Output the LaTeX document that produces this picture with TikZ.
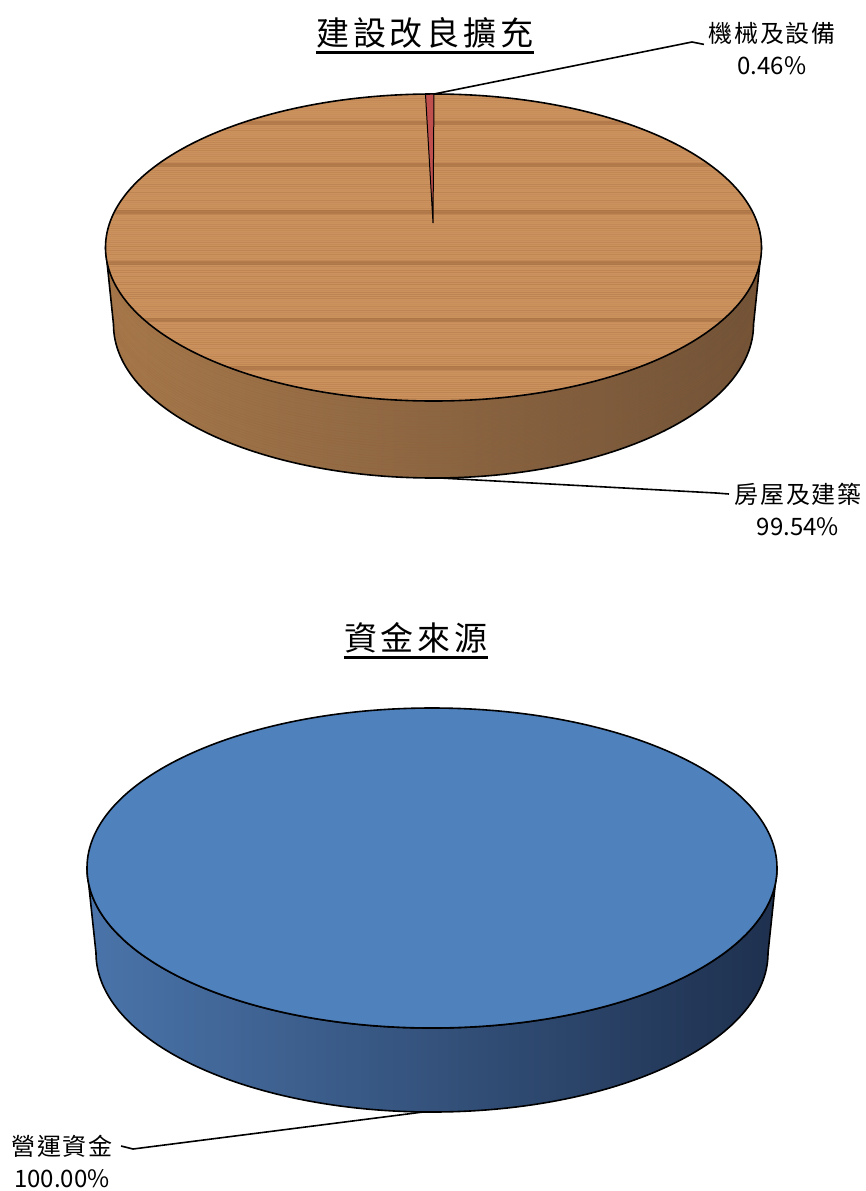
\documentclass[tikz,border=0pt]{standalone}
\usepackage{fontspec}
\newfontfamily\cjk{Noto Sans CJK TC}
\newcommand{\lsp}{\addfontfeature{LetterSpace=8}}
\newcommand{\tsp}{\addfontfeature{LetterSpace=12}}
\usetikzlibrary{positioning}
\definecolor{woodtop}{RGB}{204,146,94}
\definecolor{wooddark}{RGB}{145,92,50}
\definecolor{woodsideL}{RGB}{168,122,76}
\definecolor{woodsideM}{RGB}{122,90,61}
\definecolor{woodsideR}{RGB}{112,82,56}
\definecolor{slicered}{RGB}{192,80,77}
\definecolor{bluetop}{RGB}{79,129,189}
\definecolor{bluesideL}{RGB}{74,116,170}
\definecolor{bluesideM}{RGB}{46,72,108}
\definecolor{bluesideR}{RGB}{30,48,78}
\begin{document}
\begin{tikzpicture}[x=1pt,y=-1pt,
  ttl/.style={font=\cjk\fontsize{33}{40}\selectfont, inner sep=0pt},
  lbl/.style={font=\cjk\fontsize{24}{30}\selectfont, inner sep=0pt},
  rim/.style={draw=black, line width=1.6pt},
  lead/.style={draw=black, line width=1.6pt}]
  \useasboundingbox (0,0) rectangle (866,1191);
  \pgfmathsetseed{11}

  % ---- first chart: construction ----
  % titles
  \node[ttl] (ttlA) at (425,33) {\tsp 建設改良擴充};
  \draw[line width=2.2pt] ([yshift=-4pt]ttlA.south west) -- ([yshift=-4pt]ttlA.south east);

  % side of the wooden pie
  \path[left color=woodsideL, middle color=woodsideM, right color=woodsideR]
    (105.5,247.5) arc[start angle=180, end angle=360, x radius=328pt, y radius=153.5pt]
    -- (753.5,324.5) arc[start angle=0, end angle=-180, x radius=320pt, y radius=153.5pt]
    -- cycle;
  \begin{scope}
    \clip (105.5,247.5) arc[start angle=180, end angle=360, x radius=328pt, y radius=153.5pt]
      -- (753.5,324.5) arc[start angle=0, end angle=-180, x radius=320pt, y radius=153.5pt]
      -- cycle;
    \foreach \k in {1,...,30} {
      \pgfmathsetmacro\oo{0.05+0.2*rnd}
      \draw[wooddark, opacity=\oo, line width=1pt]
        (105.5,247.5+2.6*\k) arc[start angle=180, end angle=360, x radius=326pt, y radius=153.5pt];
    }
  \end{scope}
  \draw[rim] (105.5,247.5) -- (113.5,324.5)
    arc[start angle=180, end angle=360, x radius=320pt, y radius=153.5pt] -- (761.5,247.5);

  % top face with grain
  \fill[woodtop] (433.5,247.5) ellipse [x radius=328pt, y radius=153.5pt];
  \begin{scope}
    \clip (433.5,247.5) ellipse [x radius=328pt, y radius=153.5pt];
    \foreach \i in {0,...,155} {
      \pgfmathsetmacro\oo{0.04+0.22*rnd}
      \draw[wooddark, opacity=\oo, line width=0.9pt] (100,94+2*\i) -- (770,94+2*\i);
    }
    \foreach \y in {123,165,212,263,320,368}
      \draw[wooddark, opacity=0.4, line width=4pt] (100,\y) -- (770,\y);
  \end{scope}
  \draw[rim] (433.5,247.5) ellipse [x radius=328pt, y radius=153.5pt];

  % small slice
  \filldraw[fill=slicered, draw=black, line width=1pt] (433,223) -- (425.5,94.5) -- (434,94) -- cycle;

  % labels
  \node[lbl] (lblMach) at (772,33) {\lsp 機械及設備};
  \node[lbl, below=12pt of lblMach] (valMach) {0.46\%};
  \node[lbl] (lblBldg) at (798,494) {\lsp 房屋及建築};
  \node[lbl, below=12pt of lblBldg] (valBldg) {99.54\%};

  % leader lines
  \coordinate (machTip) at (434,94);
  \coordinate (bldgPt) at (440,478);
  \draw[lead] (machTip) -- (692,42) -- ([xshift=-4pt]lblMach.south west);
  \draw[lead] (bldgPt) -- (716,493) -- ([xshift=-5pt]lblBldg.west);

  % ---- second chart: sources of funds ----
  \node[ttl] (ttlB) at (416,638) {\tsp 資金來源};
  \draw[line width=2.2pt] ([yshift=-4pt]ttlB.south west) -- ([yshift=-4pt]ttlB.south east);

  % side
  \filldraw[left color=bluesideL, middle color=bluesideM, right color=bluesideR, rim]
    (87,868) arc[start angle=180, end angle=360, x radius=345pt, y radius=160pt]
    -- (768,953) arc[start angle=0, end angle=-180, x radius=336pt, y radius=159pt]
    -- cycle;
  % top
  \filldraw[fill=bluetop, rim] (432,868) ellipse [x radius=345pt, y radius=160pt];

  % label
  \node[lbl] (lblFund) at (62,1146) {\lsp 營運資金};
  \node[lbl, below=12pt of lblFund] (valFund) {100.00\%};
  \coordinate (fundPt) at (423,1112);
  \draw[lead] (fundPt) -- (133,1149) -- ([xshift=8pt]lblFund.east);
\end{tikzpicture}
\end{document}
